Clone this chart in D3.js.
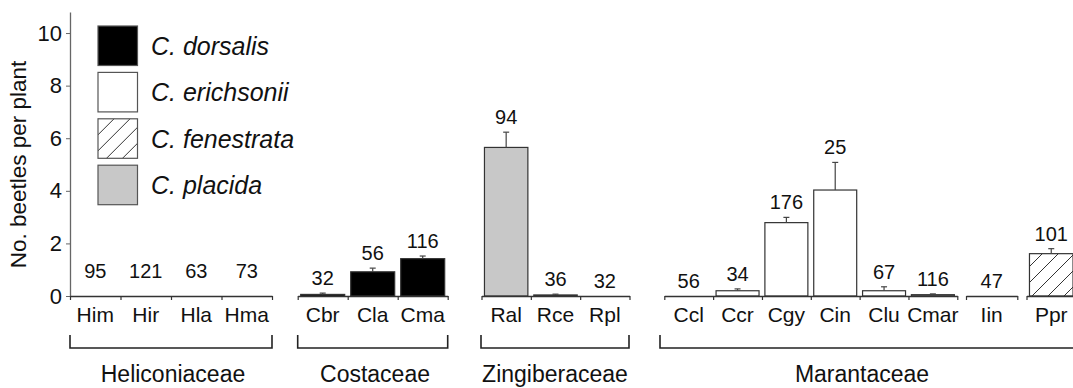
<!DOCTYPE html>
<html>
<head>
<meta charset="utf-8">
<script src="https://cdn.jsdelivr.net/npm/d3@7"></script>
<style>
  html, body { margin: 0; padding: 0; background: #fff; }
  svg { display: block; font-family: "Liberation Sans", Arial, sans-serif; }
</style>
</head>
<body>
<svg id="chart" width="1073" height="388"></svg>
<script>
// Host plant codes, in plotting order
const categories = ["Him", "Hir", "Hla", "Hma",
                    "Cbr", "Cla", "Cma",
                    "Ral", "Rce", "Rpl",
                    "Ccl", "Ccr", "Cgy", "Cin", "Clu", "Cmar",
                    "Iin", "Ppr"];
// Mean number of beetles per plant
const means = [0, 0, 0, 0,
               0.06, 0.92, 1.42,
               5.65, 0.04, 0,
               0, 0.2, 2.79, 4.03, 0.2, 0.05,
               0, 1.61];
// Standard error of the mean
const errors = [0, 0, 0, 0,
                0.05, 0.14, 0.10,
                0.58, 0.03, 0,
                0, 0.07, 0.2, 1.05, 0.15, 0.03,
                0, 0.19];
// Number of plants sampled
const sampleSizes = [95, 121, 63, 73,
                     32, 56, 116,
                     94, 36, 32,
                     56, 34, 176, 25, 67, 116,
                     47, 101];
// Beetle species found on each host
const hostSpecies = ["none", "none", "none", "none",
                     "dorsalis", "dorsalis", "dorsalis",
                     "placida", "placida", "placida",
                     "erichsonii", "erichsonii", "erichsonii", "erichsonii", "erichsonii", "erichsonii",
                     "erichsonii", "fenestrata"];
// Axis segment each host belongs to (one segment per plant genus)
const hostSegment = ["Heliconia", "Heliconia", "Heliconia", "Heliconia",
                     "Costus", "Costus", "Costus",
                     "Renealmia", "Renealmia", "Renealmia",
                     "Calathea", "Calathea", "Calathea", "Calathea", "Calathea", "Calathea",
                     "Ischnosiphon", "Pleiostachya"];
// Legend entries
const speciesKeys = ["dorsalis", "erichsonii", "fenestrata", "placida"];
const speciesNames = ["C. dorsalis", "C. erichsonii", "C. fenestrata", "C. placida"];
// Y axis ticks
const yTicks = [0, 2, 4, 6, 8, 10];
const yTitle = "No. beetles per plant";
// Plant families
const familyNames = ["Heliconiaceae", "Costaceae", "Zingiberaceae", "Marantaceae"];

// ---- layout ----
const segments = [
  { id: "Heliconia",    x0: 70,    x1: 272 },
  { id: "Costus",       x0: 297.7, x1: 447.7 },
  { id: "Renealmia",    x0: 481.5, x1: 629.5 },
  { id: "Calathea",     x0: 664.3, x1: 957.3 },
  { id: "Ischnosiphon", x0: 966,   x1: 1017.3 },
  { id: "Pleiostachya", x0: 1026.5, x1: 1076 }
];
const familyLayout = [
  { x0: 70,    x1: 272,   labelX: 173,   lift: 10, end: true },
  { x0: 297.7, x1: 447.7, labelX: 375,   lift: 0,  end: true },
  { x0: 481,   x1: 629,   labelX: 555,   lift: 0,  end: true },
  { x0: 660,   x1: 1090,  labelX: 862,   lift: 0,  end: false }
];
const familyOfSegment = { Heliconia: 0, Costus: 1, Renealmia: 2, Calathea: 3, Ischnosiphon: 3, Pleiostachya: 3 };

const fills = { dorsalis: "#000", erichsonii: "#fff", fenestrata: "url(#hatch)", placida: "#c8c8c8", none: "none" };
const axisColor = "#333";

const svg = d3.select("#chart");

// diagonal hatching
const defs = svg.append("defs");
const pat = defs.append("pattern")
  .attr("id", "hatch").attr("patternUnits", "userSpaceOnUse")
  .attr("width", 16).attr("height", 16);
pat.append("rect").attr("width", 16).attr("height", 16).attr("fill", "#fff");
pat.append("path")
  .attr("d", "M-4,4 L4,-4 M0,16 L16,0 M12,20 L20,12")
  .attr("stroke", "#333").attr("stroke-width", 1);

const y = d3.scaleLinear().domain([0, 10.8]).range([296, 12]);

// y axis
const yAxis = svg.append("g")
  .attr("transform", "translate(70,0)")
  .call(d3.axisLeft(y).tickValues(yTicks).tickSize(4).tickSizeOuter(0).tickPadding(4));
yAxis.select(".domain").attr("stroke", "#666").attr("stroke-width", 1.3);
yAxis.selectAll(".tick line").attr("stroke", "#666");
yAxis.selectAll(".tick text")
  .attr("font-size", 22).attr("fill", "#111")
  .attr("font-family", "Liberation Sans, Arial, sans-serif");

svg.append("text")
  .attr("transform", `translate(26,${y(5.0)}) rotate(-90)`)
  .attr("text-anchor", "middle")
  .attr("font-size", 22.5).attr("fill", "#111")
  .text(yTitle);

// rows of data
const rows = categories.map((c, i) => ({
  cat: c, mean: means[i], err: errors[i], n: sampleSizes[i],
  species: hostSpecies[i], seg: hostSegment[i]
}));

// bars, error bars, labels per segment
segments.forEach(seg => {
  const segRows = rows.filter(r => r.seg === seg.id);
  const band = d3.scaleBand().domain(segRows.map(r => r.cat)).range([seg.x0, seg.x1]);
  const idx = d3.scaleLinear().domain([0, segRows.length]).range([seg.x0, seg.x1]);
  const fam = familyLayout[familyOfSegment[seg.id]];
  const bw = band.bandwidth() * 0.88;
  const g = svg.append("g");

  // bars
  g.selectAll("rect.bar")
    .data(segRows.filter(r => r.mean > 0))
    .join("rect")
    .attr("class", "bar")
    .attr("x", r => band(r.cat) + (band.bandwidth() - bw) / 2)
    .attr("width", bw)
    .attr("y", r => y(r.mean))
    .attr("height", r => y(0) - y(r.mean))
    .attr("fill", r => fills[r.species])
    .attr("stroke", "#333").attr("stroke-width", 1.2);

  // error bars
  const eb = g.selectAll("g.err")
    .data(segRows.filter(r => r.err > 0))
    .join("g").attr("class", "err");
  eb.append("line")
    .attr("x1", r => band(r.cat) + band.bandwidth() / 2)
    .attr("x2", r => band(r.cat) + band.bandwidth() / 2)
    .attr("y1", r => y(r.mean)).attr("y2", r => y(r.mean + r.err))
    .attr("stroke", "#444").attr("stroke-width", 1.2);
  eb.append("line")
    .attr("x1", r => band(r.cat) + band.bandwidth() / 2 - 3)
    .attr("x2", r => band(r.cat) + band.bandwidth() / 2 + 3)
    .attr("y1", r => y(r.mean + r.err)).attr("y2", r => y(r.mean + r.err))
    .attr("stroke", "#444").attr("stroke-width", 1.2);

  // sample size labels
  g.selectAll("text.n")
    .data(segRows)
    .join("text")
    .attr("class", "n")
    .attr("x", r => band(r.cat) + band.bandwidth() / 2)
    .attr("y", r => y(r.mean + r.err) - 8 - fam.lift)
    .attr("text-anchor", "middle")
    .attr("font-size", 20).attr("fill", "#111")
    .text(r => r.n);

  // category axis with ticks at band boundaries
  const ax = svg.append("g")
    .attr("transform", `translate(0,${y(0)})`)
    .call(d3.axisBottom(idx).tickValues(d3.range(segRows.length + 1)).tickFormat("").tickSize(4).tickSizeOuter(0));
  ax.select(".domain").attr("stroke", axisColor).attr("stroke-width", 1.3);
  ax.selectAll(".tick line").attr("stroke", axisColor).attr("stroke-width", 1.2);

  // category labels
  g.selectAll("text.cat")
    .data(segRows)
    .join("text")
    .attr("class", "cat")
    .attr("x", r => band(r.cat) + band.bandwidth() / 2)
    .attr("y", 322)
    .attr("text-anchor", "middle")
    .attr("font-size", 21).attr("fill", "#111")
    .text(r => r.cat);
});

// family brackets
familyLayout.forEach((f, i) => {
  const top = 335, bot = 348;
  let d = `M${f.x0},${top} L${f.x0},${bot} L${f.x1},${bot}`;
  if (f.end) d += ` L${f.x1},${top}`;
  svg.append("path").attr("d", d)
    .attr("fill", "none").attr("stroke", "#222").attr("stroke-width", 1.6);
  svg.append("text")
    .attr("x", f.labelX).attr("y", 382)
    .attr("text-anchor", "middle")
    .attr("font-size", 23).attr("fill", "#111")
    .text(familyNames[i]);
});

// legend
const legend = svg.append("g").attr("transform", "translate(98,26)");
const li = legend.selectAll("g").data(speciesKeys).join("g")
  .attr("transform", (d, i) => `translate(0,${i * 46.4})`);
li.append("rect")
  .attr("width", 39.5).attr("height", 39.5)
  .attr("fill", d => fills[d])
  .attr("stroke", "#555").attr("stroke-width", 1.2);
li.append("text")
  .attr("x", 53).attr("y", 29)
  .attr("font-size", 25).attr("font-style", "italic").attr("fill", "#111")
  .text((d, i) => speciesNames[i]);
</script>
</body>
</html>
